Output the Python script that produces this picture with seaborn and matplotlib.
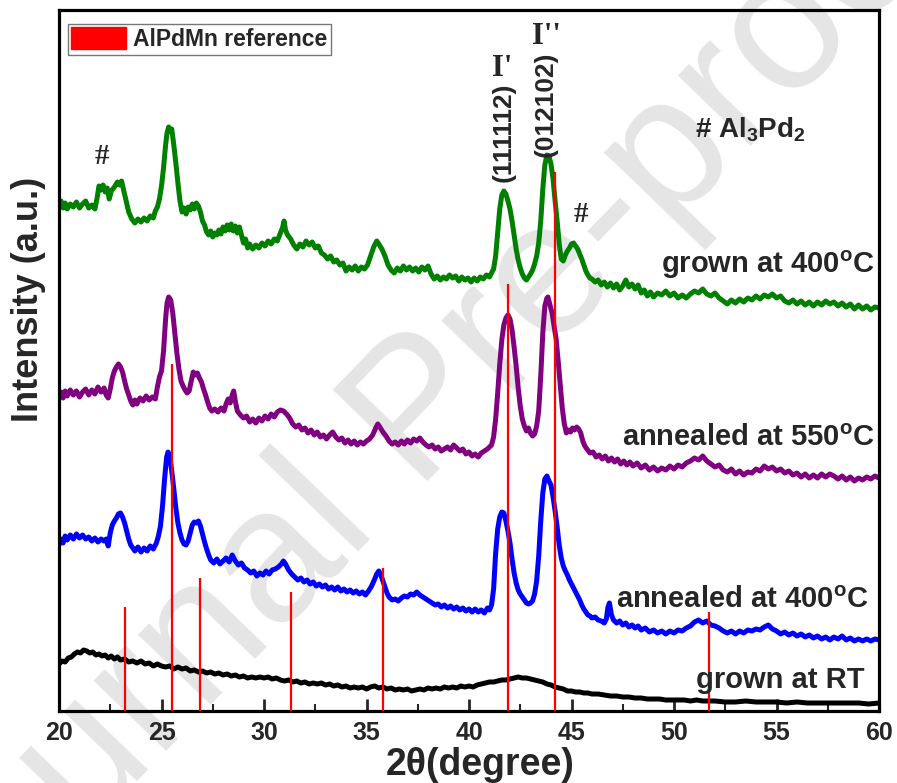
import matplotlib
matplotlib.use("Agg")
import matplotlib.pyplot as plt
from matplotlib.patches import Patch
from matplotlib.ticker import MultipleLocator
import seaborn as sns
import pandas as pd

# ---------------- data: (2theta, intensity in arbitrary offset units) ----------------
pattern_grown_400 = [
    (20.0, 506), (20.1, 510), (20.2, 503), (20.3, 508), (20.4, 502), (20.55, 507), (20.7, 504), (20.85, 509),
    (21.0, 503), (21.15, 507), (21.3, 510), (21.45, 503), (21.6, 506), (21.75, 502), (21.85, 512), (21.95, 525),
    (22.05, 521), (22.15, 526), (22.25, 519), (22.35, 523), (22.45, 512), (22.55, 520), (22.7, 524), (22.85, 529),
    (22.95, 526), (23.05, 530), (23.15, 521), (23.3, 508), (23.4, 499), (23.55, 492), (23.7, 488), (23.85, 492),
    (24.0, 489), (24.15, 493), (24.3, 490), (24.45, 495), (24.6, 493), (24.7, 500), (24.8, 504), (24.9, 512),
    (25.0, 525), (25.1, 543), (25.2, 566), (25.27, 578), (25.35, 584), (25.43, 580), (25.5, 582), (25.6, 566),
    (25.7, 548), (25.8, 528), (25.9, 510), (26.0, 499), (26.1, 503), (26.2, 497), (26.3, 504), (26.4, 501),
    (26.5, 507), (26.6, 502), (26.7, 508), (26.8, 505), (26.9, 499), (27.0, 490), (27.1, 486), (27.2, 479),
    (27.3, 476), (27.4, 480), (27.5, 474), (27.6, 478), (27.7, 476), (27.8, 481), (27.9, 477), (28.0, 484),
    (28.1, 480), (28.2, 486), (28.3, 481), (28.4, 487), (28.5, 480), (28.6, 485), (28.7, 478), (28.8, 484),
    (28.9, 476), (29.0, 468), (29.1, 472), (29.2, 463), (29.3, 467), (29.45, 462), (29.6, 466), (29.75, 463),
    (29.9, 468), (30.05, 465), (30.2, 470), (30.35, 467), (30.5, 472), (30.65, 470), (30.8, 478), (30.9, 483),
    (30.98, 490), (31.05, 481), (31.15, 476), (31.3, 472), (31.45, 466), (31.6, 462), (31.75, 467), (31.9, 464),
    (32.05, 470), (32.2, 466), (32.35, 469), (32.5, 463), (32.65, 465), (32.8, 458), (32.95, 456), (33.1, 452),
    (33.25, 455), (33.4, 449), (33.55, 451), (33.7, 446), (33.85, 448), (34.0, 440), (34.15, 444), (34.3, 441),
    (34.45, 445), (34.6, 440), (34.75, 444), (34.9, 442), (35.05, 446), (35.2, 455), (35.35, 464), (35.5, 470),
    (35.6, 467), (35.75, 462), (35.9, 455), (36.05, 446), (36.2, 441), (36.35, 438), (36.5, 443), (36.65, 440),
    (36.8, 445), (36.95, 441), (37.1, 444), (37.25, 440), (37.4, 443), (37.55, 439), (37.7, 444), (37.85, 441),
    (38.0, 445), (38.15, 437), (38.3, 432), (38.45, 435), (38.6, 431), (38.75, 434), (38.9, 432), (39.05, 436),
    (39.2, 433), (39.35, 435), (39.5, 430), (39.65, 434), (39.8, 431), (39.95, 433), (40.1, 429), (40.25, 433),
    (40.4, 430), (40.55, 434), (40.7, 432), (40.85, 436), (41.0, 434), (41.1, 438), (41.2, 442), (41.3, 455),
    (41.4, 478), (41.5, 502), (41.6, 516), (41.7, 520), (41.8, 517), (41.9, 510), (42.0, 502), (42.1, 490),
    (42.2, 476), (42.3, 462), (42.4, 451), (42.5, 443), (42.6, 437), (42.7, 433), (42.8, 431), (42.9, 434),
    (43.0, 437), (43.1, 441), (43.2, 447), (43.3, 455), (43.4, 468), (43.5, 490), (43.6, 522), (43.7, 546),
    (43.8, 556), (43.9, 555), (44.0, 547), (44.1, 532), (44.2, 510), (44.3, 490), (44.4, 467), (44.5, 452),
    (44.6, 450), (44.7, 456), (44.8, 460), (44.9, 463), (45.0, 467), (45.1, 468), (45.2, 465), (45.3, 462),
    (45.4, 457), (45.5, 452), (45.6, 446), (45.7, 440), (45.8, 436), (45.9, 433), (46.0, 432), (46.15, 429),
    (46.3, 431), (46.45, 426), (46.6, 429), (46.75, 424), (46.9, 428), (47.05, 423), (47.2, 427), (47.35, 421),
    (47.5, 425), (47.65, 431), (47.8, 424), (47.95, 427), (48.1, 422), (48.25, 426), (48.4, 418), (48.55, 421),
    (48.7, 415), (48.85, 419), (49.0, 414), (49.2, 418), (49.4, 416), (49.6, 420), (49.8, 415), (50.0, 418),
    (50.2, 413), (50.4, 416), (50.6, 413), (50.8, 417), (51.0, 420), (51.2, 418), (51.4, 422), (51.6, 417),
    (51.8, 415), (52.0, 418), (52.2, 413), (52.4, 410), (52.6, 407), (52.8, 411), (53.0, 408), (53.2, 412),
    (53.4, 409), (53.6, 413), (53.8, 411), (54.0, 415), (54.2, 412), (54.4, 416), (54.6, 414), (54.8, 417),
    (55.0, 413), (55.2, 415), (55.4, 410), (55.6, 408), (55.8, 411), (56.0, 407), (56.2, 410), (56.4, 406),
    (56.6, 409), (56.8, 405), (57.0, 409), (57.2, 406), (57.4, 410), (57.6, 407), (57.8, 409), (58.0, 405),
    (58.2, 408), (58.4, 404), (58.6, 407), (58.8, 402), (59.0, 406), (59.2, 402), (59.4, 405), (59.6, 401),
    (59.8, 404), (60.0, 403)]

pattern_annealed_550 = [
    (20.0, 314), (20.1, 319), (20.2, 313), (20.3, 320), (20.4, 315), (20.55, 321), (20.7, 316), (20.85, 320),
    (21.0, 314), (21.15, 319), (21.3, 322), (21.45, 316), (21.6, 321), (21.75, 317), (21.9, 324), (22.05, 319),
    (22.2, 323), (22.3, 316), (22.4, 313), (22.5, 322), (22.6, 333), (22.7, 340), (22.8, 344), (22.9, 347),
    (23.0, 344), (23.1, 339), (23.2, 330), (23.3, 322), (23.4, 316), (23.5, 310), (23.6, 306), (23.7, 311),
    (23.8, 307), (23.95, 313), (24.1, 310), (24.25, 315), (24.4, 311), (24.55, 314), (24.7, 312), (24.8, 324),
    (24.9, 334), (25.0, 340), (25.1, 360), (25.2, 392), (25.27, 408), (25.35, 414), (25.45, 411), (25.55, 398),
    (25.65, 378), (25.75, 358), (25.85, 342), (25.95, 330), (26.05, 325), (26.15, 321), (26.25, 318), (26.35, 320),
    (26.45, 330), (26.55, 339), (26.65, 336), (26.75, 338), (26.85, 333), (26.95, 329), (27.05, 322), (27.15, 316),
    (27.25, 309), (27.35, 303), (27.45, 300), (27.6, 302), (27.75, 299), (27.9, 303), (28.05, 300), (28.15, 307),
    (28.25, 312), (28.35, 308), (28.45, 316), (28.52, 320), (28.6, 310), (28.7, 300), (28.85, 296), (29.0, 293),
    (29.15, 295), (29.3, 289), (29.45, 292), (29.6, 288), (29.75, 293), (29.9, 290), (30.05, 295), (30.2, 292),
    (30.35, 297), (30.5, 294), (30.65, 299), (30.8, 301), (30.95, 300), (31.1, 297), (31.25, 293), (31.4, 287),
    (31.55, 284), (31.7, 286), (31.85, 281), (32.0, 283), (32.15, 278), (32.3, 281), (32.45, 276), (32.6, 279),
    (32.75, 274), (32.9, 276), (33.05, 272), (33.2, 276), (33.35, 279), (33.5, 274), (33.65, 271), (33.8, 273),
    (33.95, 268), (34.1, 271), (34.25, 267), (34.4, 270), (34.55, 266), (34.7, 269), (34.85, 267), (35.0, 270),
    (35.15, 272), (35.3, 276), (35.45, 283), (35.55, 287), (35.65, 284), (35.8, 279), (35.95, 275), (36.1, 270),
    (36.25, 267), (36.4, 269), (36.55, 266), (36.7, 270), (36.85, 267), (37.0, 271), (37.15, 268), (37.3, 272),
    (37.45, 270), (37.6, 273), (37.75, 269), (37.9, 266), (38.05, 264), (38.2, 266), (38.35, 262), (38.5, 264),
    (38.65, 260), (38.8, 262), (38.95, 264), (39.1, 261), (39.25, 266), (39.4, 263), (39.55, 260), (39.7, 262),
    (39.85, 257), (40.0, 259), (40.15, 255), (40.3, 257), (40.45, 254), (40.6, 258), (40.75, 260), (40.9, 262),
    (41.0, 264), (41.1, 266), (41.2, 274), (41.3, 292), (41.4, 318), (41.5, 347), (41.6, 371), (41.7, 386),
    (41.8, 393), (41.9, 396), (42.0, 392), (42.1, 381), (42.2, 364), (42.3, 345), (42.4, 323), (42.5, 305),
    (42.6, 292), (42.7, 285), (42.8, 280), (42.9, 283), (43.0, 278), (43.1, 275), (43.2, 277), (43.3, 285),
    (43.4, 300), (43.5, 335), (43.6, 378), (43.7, 405), (43.8, 413), (43.85, 414), (43.95, 406), (44.05, 398),
    (44.15, 385), (44.25, 372), (44.35, 350), (44.45, 326), (44.55, 303), (44.65, 287), (44.75, 278), (44.85, 281),
    (44.95, 279), (45.05, 283), (45.15, 281), (45.25, 284), (45.35, 282), (45.45, 278), (45.55, 270), (45.65, 265),
    (45.75, 262), (45.9, 258), (46.05, 259), (46.2, 254), (46.35, 256), (46.5, 252), (46.65, 255), (46.8, 250),
    (46.95, 253), (47.1, 249), (47.25, 252), (47.4, 247), (47.55, 250), (47.7, 246), (47.85, 249), (48.0, 245),
    (48.2, 248), (48.4, 243), (48.6, 246), (48.8, 241), (49.0, 244), (49.2, 240), (49.4, 243), (49.6, 241),
    (49.8, 245), (50.0, 242), (50.2, 246), (50.4, 244), (50.6, 248), (50.8, 250), (51.0, 253), (51.2, 251),
    (51.4, 255), (51.6, 250), (51.8, 247), (52.0, 244), (52.2, 246), (52.4, 241), (52.6, 239), (52.8, 242),
    (53.0, 237), (53.2, 240), (53.4, 236), (53.6, 239), (53.8, 238), (54.0, 242), (54.2, 240), (54.4, 245),
    (54.6, 242), (54.8, 244), (55.0, 240), (55.2, 242), (55.4, 238), (55.6, 240), (55.8, 236), (56.0, 238),
    (56.2, 234), (56.4, 237), (56.6, 233), (56.8, 236), (57.0, 233), (57.2, 237), (57.4, 234), (57.6, 237),
    (57.8, 235), (58.0, 232), (58.2, 235), (58.4, 231), (58.6, 234), (58.8, 230), (59.0, 233), (59.2, 231),
    (59.4, 234), (59.6, 232), (59.8, 235), (60.0, 233)]

pattern_annealed_400 = [
    (20.0, 166), (20.1, 172), (20.2, 168), (20.3, 175), (20.4, 171), (20.55, 176), (20.7, 172), (20.85, 177),
    (21.0, 173), (21.15, 176), (21.3, 172), (21.45, 174), (21.6, 170), (21.75, 173), (21.9, 169), (22.05, 172),
    (22.2, 170), (22.3, 172), (22.4, 165), (22.5, 178), (22.6, 186), (22.7, 190), (22.8, 193), (22.9, 197),
    (23.0, 198), (23.1, 194), (23.2, 188), (23.3, 180), (23.4, 172), (23.5, 166), (23.6, 163), (23.7, 160),
    (23.85, 164), (24.0, 159), (24.15, 163), (24.3, 160), (24.45, 165), (24.6, 162), (24.75, 168), (24.85, 175),
    (24.95, 185), (25.05, 205), (25.15, 232), (25.25, 254), (25.32, 259), (25.4, 255), (25.5, 240), (25.6, 222),
    (25.7, 203), (25.8, 188), (25.9, 178), (26.0, 171), (26.1, 167), (26.2, 166), (26.3, 170), (26.4, 178),
    (26.5, 186), (26.6, 189), (26.7, 188), (26.8, 190), (26.9, 185), (27.0, 177), (27.1, 169), (27.2, 162),
    (27.3, 156), (27.4, 151), (27.55, 148), (27.7, 152), (27.85, 147), (28.0, 150), (28.15, 153), (28.3, 149),
    (28.45, 156), (28.6, 150), (28.75, 146), (28.9, 148), (29.05, 143), (29.2, 141), (29.35, 138), (29.5, 140),
    (29.65, 135), (29.8, 138), (29.95, 136), (30.1, 140), (30.25, 137), (30.4, 141), (30.55, 142), (30.7, 144),
    (30.85, 147), (30.95, 150), (31.05, 147), (31.2, 141), (31.35, 137), (31.5, 134), (31.65, 131), (31.8, 133),
    (31.95, 129), (32.1, 131), (32.25, 127), (32.4, 129), (32.55, 125), (32.7, 127), (32.85, 124), (33.0, 126),
    (33.15, 122), (33.3, 124), (33.45, 121), (33.6, 124), (33.75, 120), (33.9, 122), (34.05, 119), (34.2, 121),
    (34.35, 118), (34.5, 120), (34.65, 117), (34.8, 119), (34.95, 116), (35.1, 120), (35.25, 125), (35.4, 132),
    (35.5, 137), (35.6, 140), (35.7, 136), (35.8, 130), (35.9, 124), (36.0, 118), (36.1, 114), (36.25, 111),
    (36.4, 112), (36.55, 110), (36.7, 113), (36.85, 115), (37.0, 114), (37.15, 117), (37.3, 116), (37.45, 119),
    (37.6, 116), (37.75, 114), (37.9, 112), (38.05, 110), (38.2, 108), (38.35, 106), (38.5, 107), (38.65, 104),
    (38.8, 106), (38.95, 103), (39.1, 105), (39.25, 102), (39.4, 104), (39.55, 101), (39.7, 103), (39.85, 100),
    (40.0, 102), (40.15, 99), (40.3, 102), (40.45, 99), (40.6, 101), (40.75, 98), (40.9, 103), (41.0, 101),
    (41.1, 106), (41.2, 122), (41.3, 158), (41.4, 182), (41.5, 194), (41.6, 199), (41.7, 198), (41.8, 190),
    (41.9, 180), (42.0, 168), (42.1, 152), (42.2, 138), (42.3, 128), (42.4, 121), (42.5, 117), (42.6, 114),
    (42.7, 111), (42.8, 108), (42.9, 107), (43.0, 108), (43.1, 110), (43.2, 117), (43.3, 130), (43.4, 155),
    (43.5, 190), (43.6, 218), (43.7, 232), (43.8, 235), (43.9, 230), (44.0, 226), (44.1, 214), (44.2, 200),
    (44.3, 184), (44.4, 166), (44.5, 153), (44.6, 145), (44.7, 140), (44.8, 136), (44.9, 131), (45.0, 127),
    (45.1, 123), (45.2, 119), (45.3, 115), (45.4, 111), (45.5, 106), (45.6, 102), (45.7, 99), (45.8, 96),
    (45.9, 95), (46.0, 93), (46.15, 94), (46.3, 91), (46.45, 90), (46.6, 88), (46.7, 92), (46.78, 104),
    (46.85, 108), (46.95, 96), (47.05, 91), (47.2, 88), (47.35, 90), (47.5, 86), (47.65, 88), (47.8, 84),
    (47.95, 86), (48.1, 83), (48.25, 85), (48.4, 81), (48.6, 83), (48.8, 79), (49.0, 81), (49.2, 78),
    (49.4, 80), (49.6, 77), (49.8, 80), (50.0, 78), (50.2, 81), (50.4, 80), (50.6, 83), (50.8, 85),
    (51.0, 89), (51.2, 91), (51.4, 88), (51.6, 90), (51.8, 86), (52.0, 85), (52.2, 83), (52.4, 80),
    (52.6, 78), (52.8, 80), (53.0, 77), (53.2, 80), (53.4, 78), (53.6, 81), (53.8, 80), (54.0, 82),
    (54.2, 81), (54.4, 84), (54.6, 86), (54.8, 82), (55.0, 80), (55.2, 77), (55.4, 79), (55.6, 76),
    (55.8, 78), (56.0, 75), (56.2, 77), (56.4, 74), (56.6, 76), (56.8, 73), (57.0, 75), (57.2, 72),
    (57.4, 74), (57.6, 71), (57.8, 74), (58.0, 72), (58.2, 75), (58.4, 71), (58.6, 73), (58.8, 70),
    (59.0, 72), (59.2, 70), (59.4, 72), (59.6, 70), (59.8, 72), (60.0, 71)]

pattern_grown_rt = [
    (20.0, 47), (20.15, 50), (20.3, 49), (20.45, 53), (20.6, 54), (20.75, 57), (20.9, 59), (21.05, 58),
    (21.2, 61), (21.35, 60), (21.5, 58), (21.65, 59), (21.8, 56), (21.95, 57), (22.1, 55), (22.25, 56),
    (22.4, 53), (22.55, 55), (22.7, 52), (22.85, 54), (23.0, 51), (23.2, 52), (23.4, 49), (23.6, 50),
    (23.8, 48), (24.0, 50), (24.2, 47), (24.4, 48), (24.6, 45), (24.8, 47), (25.0, 45), (25.2, 44),
    (25.4, 45), (25.6, 42), (25.8, 44), (26.0, 42), (26.2, 43), (26.4, 40), (26.6, 41), (26.8, 39),
    (27.0, 40), (27.2, 38), (27.4, 39), (27.6, 37), (27.8, 38), (28.0, 36), (28.2, 37), (28.4, 35),
    (28.6, 36), (28.8, 34), (29.0, 35), (29.2, 33), (29.4, 34), (29.6, 33), (29.8, 34), (30.0, 33),
    (30.2, 34), (30.4, 32), (30.6, 33), (30.8, 31), (31.0, 30), (31.2, 31), (31.4, 29), (31.6, 30),
    (31.8, 28), (32.0, 29), (32.2, 27), (32.4, 28), (32.6, 27), (32.8, 28), (33.0, 26), (33.2, 27),
    (33.4, 25), (33.6, 26), (33.8, 24), (34.0, 25), (34.2, 23), (34.4, 24), (34.6, 23), (34.8, 24),
    (35.0, 22), (35.2, 24), (35.4, 25), (35.6, 23), (35.8, 24), (36.0, 22), (36.2, 23), (36.4, 21),
    (36.6, 22), (36.8, 21), (37.0, 22), (37.2, 20), (37.4, 21), (37.6, 22), (37.8, 21), (38.0, 23),
    (38.2, 22), (38.4, 23), (38.6, 22), (38.8, 24), (39.0, 23), (39.2, 24), (39.4, 23), (39.6, 25),
    (39.8, 24), (40.0, 25), (40.2, 24), (40.4, 26), (40.6, 27), (40.8, 28), (41.0, 29), (41.2, 29),
    (41.4, 30), (41.6, 31), (41.8, 31), (42.0, 32), (42.2, 33), (42.4, 34), (42.6, 33), (42.8, 33),
    (43.0, 32), (43.2, 31), (43.4, 30), (43.6, 29), (43.8, 27), (44.0, 26), (44.2, 24), (44.4, 23),
    (44.6, 22), (44.8, 20), (45.0, 20), (45.2, 19), (45.4, 19), (45.6, 18), (45.8, 18), (46.0, 17),
    (46.3, 17), (46.6, 16), (46.9, 15), (47.2, 15), (47.5, 14), (47.8, 14), (48.1, 13), (48.4, 13),
    (48.7, 12), (49.0, 12), (49.3, 12), (49.6, 11), (49.9, 11), (50.2, 11), (50.5, 11), (50.8, 10),
    (51.1, 11), (51.4, 10), (51.7, 10), (52.0, 10), (52.5, 9), (53.0, 9), (53.5, 10), (54.0, 9),
    (54.5, 9), (55.0, 9), (55.5, 8), (56.0, 9), (56.5, 8), (57.0, 8), (57.5, 8), (58.0, 8),
    (58.5, 8), (59.0, 8), (59.5, 7), (60.0, 8)]

ref_positions = [23.2, 25.5, 26.9, 31.3, 35.8, 41.9, 44.2, 51.7]
ref_heights = [104, 347, 133, 119, 143, 427, 539, 99]

series_labels = ["grown at 400$^\\mathrm{o}$C", "annealed at 550$^\\mathrm{o}$C",
                 "annealed at 400$^\\mathrm{o}$C", "grown at RT"]
series_colors = ["#008000", "#800080", "#0000ff", "#000000"]

# ---------------- style ----------------
sns.set_theme(style="white")
plt.rcParams["font.family"] = ["Liberation Sans", "DejaVu Sans"]
plt.rcParams["font.weight"] = "bold"
plt.rcParams["mathtext.fontset"] = "custom"
plt.rcParams["mathtext.rm"] = "Liberation Sans:bold"
plt.rcParams["mathtext.bf"] = "Liberation Sans:bold"
plt.rcParams["mathtext.it"] = "Liberation Sans:bold"

fig = plt.figure(figsize=(8.97, 7.83), dpi=100)
ax = fig.add_axes([59 / 897, 72 / 783, 820 / 897, 701 / 783])
ax.set_facecolor("none")

# watermark
ax.text(0.47, 0.47, "Journal Pre-proof", transform=fig.transFigure, rotation=46,
        fontsize=138, color="#e5e5e5", ha="center", va="center", fontweight="normal",
        zorder=0.5, clip_on=False)

patterns = [pattern_grown_400, pattern_annealed_550, pattern_annealed_400, pattern_grown_rt]
for pat, col in zip(patterns, series_colors):
    df = pd.DataFrame(pat, columns=["two_theta", "intensity"])
    sns.lineplot(data=df, x="two_theta", y="intensity", color=col, lw=3.6,
                 estimator=None, sort=False, ax=ax, zorder=2)

ax.vlines(ref_positions, 0, ref_heights, color="#ff0000", lw=1.6, zorder=3)

ax.set_xlim(20, 60)
ax.set_ylim(0, 701)
ax.set_yticks([])
ax.xaxis.set_major_locator(MultipleLocator(5))
ax.xaxis.set_minor_locator(MultipleLocator(2.5))
ax.tick_params(axis="x", which="major", direction="in", length=8.5, width=2,
               labelsize=18, pad=7, bottom=True, top=False)
ax.tick_params(axis="x", which="minor", direction="in", length=5, width=1.5,
               bottom=True, top=False)
for lbl in ax.get_xticklabels():
    lbl.set_fontweight("bold")
for sp in ax.spines.values():
    sp.set_linewidth(2.3)
    sp.set_color("black")

ax.set_xlabel("")
ax.set_ylabel("")
fig.text(480 / 897, 1 - 765 / 783, "2θ(degree)", fontsize=27, fontweight="bold",
         ha="center", va="center")
fig.text(28 / 897, 1 - 299 / 783, "Intensity (a.u.)", fontsize=26, fontweight="bold",
         ha="center", va="center", rotation=90)

# curve labels
label_pos = [(59.8, 446), (59.8, 273), (59.5, 111), (59.3, 31)]
for (lx, ly), lab in zip(label_pos, series_labels):
    ax.text(lx, ly, lab, fontsize=21, fontweight="bold", ha="right", va="center", zorder=4)

ax.text(53.7, 581, "# Al$_3$Pd$_2$", fontsize=20, fontweight="bold", ha="center", va="center")
ax.text(22.08, 554, "#", fontsize=21, family="Liberation Serif", ha="center", va="center")
ax.text(45.48, 496, "#", fontsize=21, family="Liberation Serif", ha="center", va="center")
ax.text(41.68, 579, "(111112)", fontsize=19, fontweight="bold", rotation=90,
        ha="center", va="center")
ax.text(43.76, 607, "(012102)", fontsize=19, fontweight="bold", rotation=90,
        ha="center", va="center")
ax.text(41.6, 643, "I'", fontsize=22, fontweight="bold", family="Liberation Serif",
        ha="center", va="center")
ax.text(43.8, 675, "I''", fontsize=22, fontweight="bold", family="Liberation Serif",
        ha="center", va="center")

handles = [Patch(facecolor="#ff0000", edgecolor="#ff0000", label="AlPdMn reference")]
leg = ax.legend(handles=handles, loc="upper left", bbox_to_anchor=(0.011, 0.98),
                borderaxespad=0, frameon=True, fancybox=False,
                handlelength=2.4, handleheight=1.1, handletextpad=0.3, borderpad=0.15,
                prop={"weight": "bold", "size": 16.5})
leg.get_frame().set_edgecolor("#555555")
leg.get_frame().set_linewidth(1.0)

fig.savefig("out.png", dpi=100)
